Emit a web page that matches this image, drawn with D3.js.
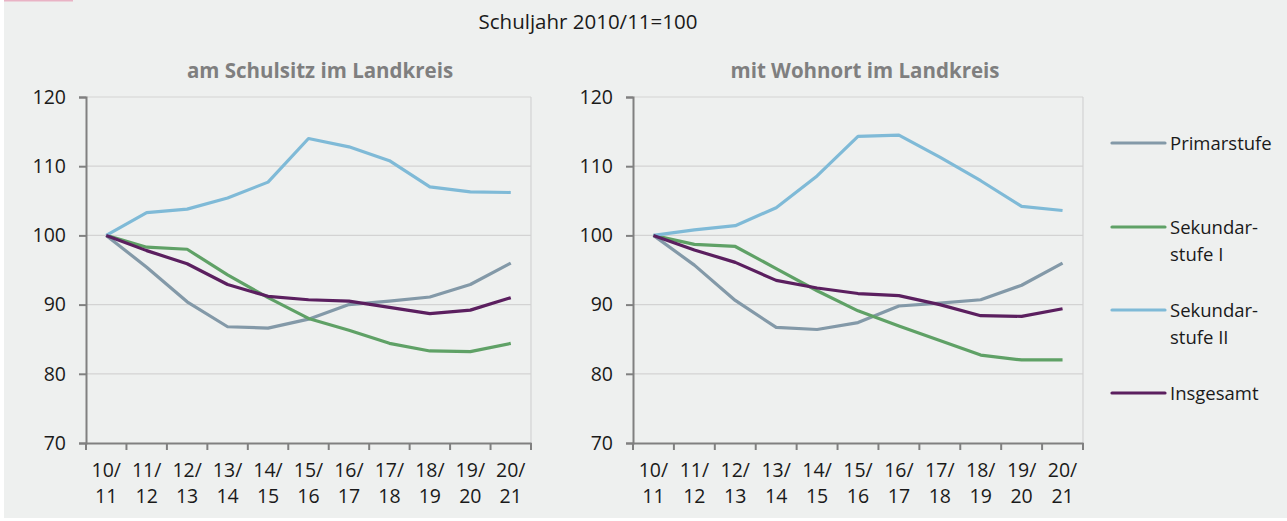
<!DOCTYPE html>
<html>
<head>
<meta charset="utf-8">
<script src="https://cdn.jsdelivr.net/npm/d3@7"></script>
<style>
  body { margin: 0; background: #fff; }
  svg { display: block; font-family: "Open Sans", sans-serif; }
</style>
</head>
<body>
<svg id="chart"></svg>
<script>
// school years
const years = ["10/11", "11/12", "12/13", "13/14", "14/15", "15/16", "16/17", "17/18", "18/19", "19/20", "20/21"];
const seriesNames = ["Primarstufe", "Sekundarstufe I", "Sekundarstufe II", "Insgesamt"];
const legendLabels = [["Primarstufe"], ["Sekundar-", "stufe I"], ["Sekundar-", "stufe II"], ["Insgesamt"]];
const colors = ["#8399a8", "#5fa166", "#7fbad7", "#5b1f5f"];
const yTicks = [70, 80, 90, 100, 110, 120];

// am Schulsitz im Landkreis
const schulsitzPrimar = [100, 95.4, 90.4, 86.8, 86.6, 87.9, 90.0, 90.5, 91.1, 92.9, 96.0];
const schulsitzSek1 = [100, 98.3, 98.0, 94.3, 91.0, 88.0, 86.3, 84.4, 83.3, 83.2, 84.4];
const schulsitzSek2 = [100, 103.3, 103.8, 105.4, 107.7, 114.0, 112.8, 110.8, 107.0, 106.3, 106.2];
const schulsitzGesamt = [100, 97.8, 95.9, 92.9, 91.2, 90.7, 90.5, 89.6, 88.7, 89.2, 91.0];

// mit Wohnort im Landkreis
const wohnortPrimar = [100, 95.7, 90.6, 86.7, 86.4, 87.4, 89.8, 90.2, 90.7, 92.8, 96.0];
const wohnortSek1 = [100, 98.7, 98.4, 95.2, 92.0, 89.1, 86.9, 84.8, 82.7, 82.0, 82.0];
const wohnortSek2 = [100, 100.8, 101.4, 104.0, 108.6, 114.3, 114.5, 111.3, 107.9, 104.2, 103.6];
const wohnortGesamt = [100, 97.9, 96.1, 93.5, 92.4, 91.6, 91.3, 90.0, 88.4, 88.3, 89.4];

const width = 1287, height = 521;
const fontSize = "19.5px";
const svg = d3.select("#chart").attr("width", width).attr("height", height);

// panel background
svg.append("rect").attr("x", 4).attr("y", 0).attr("width", width - 4).attr("height", 518).attr("fill", "#eef0ef");
svg.append("rect").attr("x", 4).attr("y", 0).attr("width", 69).attr("height", 1.5).attr("fill", "#e9b3c5");

svg.append("text")
  .attr("x", 588).attr("y", 29)
  .attr("text-anchor", "middle")
  .style("font-size", "20.5px")
  .attr("fill", "#1a1a1a")
  .text("Schuljahr 2010/11=100");

const panels = [
  { title: "am Schulsitz im Landkreis", left: 86, right: 531, titleX: 320,
    series: [schulsitzPrimar, schulsitzSek1, schulsitzSek2, schulsitzGesamt] },
  { title: "mit Wohnort im Landkreis", left: 633, right: 1083, titleX: 865,
    series: [wohnortPrimar, wohnortSek1, wohnortSek2, wohnortGesamt] }
];

const plotTop = 97, plotBottom = 443;

panels.forEach(p => {
  const x = d3.scaleBand().domain(years).range([p.left, p.right]);
  const y = d3.scaleLinear().domain([70, 120]).range([plotBottom, plotTop]);

  const g = svg.append("g");

  g.append("text")
    .attr("x", p.titleX).attr("y", 78)
    .attr("text-anchor", "middle")
    .style("font-size", "20.5px")
    .style("font-weight", "bold")
    .attr("fill", "#7f7f7f")
    .text(p.title);

  // gridlines
  g.selectAll(".grid").data(yTicks.slice(1)).join("line")
    .attr("x1", p.left).attr("x2", p.right)
    .attr("y1", d => y(d)).attr("y2", d => y(d))
    .attr("stroke", "#d3d3d3").attr("stroke-width", 1.2);
  g.append("line")
    .attr("x1", p.right).attr("x2", p.right)
    .attr("y1", plotTop).attr("y2", plotBottom)
    .attr("stroke", "#d3d3d3").attr("stroke-width", 1.2);

  // y axis
  const yAxis = d3.axisLeft(y).tickValues(yTicks).tickSize(7).tickPadding(13);
  const yG = g.append("g").attr("transform", `translate(${p.left},0)`).call(yAxis)
    .attr("font-family", null);
  yG.select(".domain").attr("stroke", "#808080").attr("stroke-width", 2);
  yG.selectAll(".tick line").attr("stroke", "#808080").attr("stroke-width", 2);
  yG.selectAll(".tick text").style("font-size", fontSize).attr("fill", "#1a1a1a");

  // x axis
  const xAxis = d3.axisBottom(x).tickSize(0).tickSizeOuter(0).tickFormat("");
  const xG = g.append("g").attr("transform", `translate(0,${plotBottom})`).call(xAxis)
    .attr("font-family", null);
  xG.select(".domain").attr("stroke", "#808080").attr("stroke-width", 2);
  // tick marks at category boundaries
  xG.selectAll(".sep").data(years.concat(["end"])).join("line")
    .attr("x1", (d, i) => p.left + i * x.step()).attr("x2", (d, i) => p.left + i * x.step())
    .attr("y1", 0).attr("y2", 7)
    .attr("stroke", "#808080").attr("stroke-width", 2);
  // two-line labels
  const lbl = xG.selectAll(".lbl").data(years).join("text")
    .attr("class", "lbl")
    .attr("x", d => x(d) + x.bandwidth() / 2)
    .attr("text-anchor", "middle")
    .style("font-size", fontSize)
    .attr("fill", "#1a1a1a");
  lbl.append("tspan").attr("x", d => x(d) + x.bandwidth() / 2).attr("y", 34).text(d => d.split("/")[0] + "/");
  lbl.append("tspan").attr("x", d => x(d) + x.bandwidth() / 2).attr("y", 60).text(d => d.split("/")[1]);

  // lines
  const line = d3.line()
    .x((d, i) => x(years[i]) + x.bandwidth() / 2)
    .y(d => y(d));
  p.series.forEach((s, k) => {
    g.append("path")
      .datum(s)
      .attr("fill", "none")
      .attr("stroke", colors[k])
      .attr("stroke-width", 3.2)
      .attr("stroke-linejoin", "round")
      .attr("d", line);
  });
});

// legend
const legendY = [143, 227, 310, 393];
const legend = svg.append("g");
seriesNames.forEach((name, k) => {
  legend.append("line")
    .attr("x1", 1112).attr("x2", 1165)
    .attr("y1", legendY[k]).attr("y2", legendY[k])
    .attr("stroke", colors[k]).attr("stroke-width", 3.2).attr("stroke-linecap", "round");
  const t = legend.append("text")
    .style("font-size", "18.5px").attr("fill", "#1a1a1a");
  legendLabels[k].forEach((l, j) => {
    t.append("tspan").attr("x", 1170).attr("y", legendY[k] + 7 + j * 27).text(l);
  });
});
</script>
</body>
</html>
